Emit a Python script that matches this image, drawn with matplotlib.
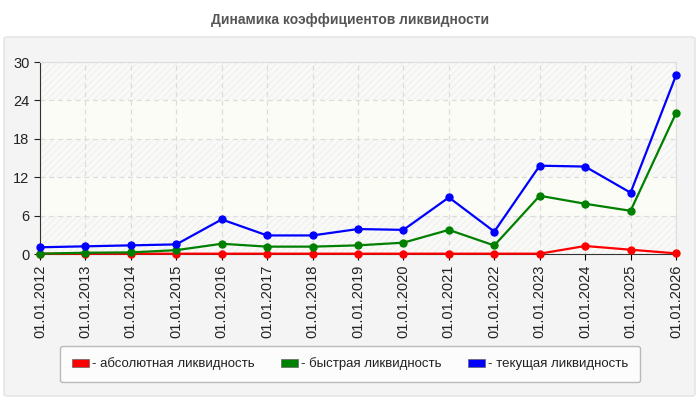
import numpy as np
import matplotlib.pyplot as plt
from matplotlib.patches import FancyBboxPatch, Patch

# data
dates = ['01.01.2012', '01.01.2013', '01.01.2014', '01.01.2015', '01.01.2016',
         '01.01.2017', '01.01.2018', '01.01.2019', '01.01.2020', '01.01.2021',
         '01.01.2022', '01.01.2023', '01.01.2024', '01.01.2025', '01.01.2026']
absolute = [0.05, 0.05, 0.05, 0.05, 0.05, 0.05, 0.05, 0.05, 0.05, 0.05,
            0.05, 0.05, 1.25, 0.67, 0.1]
quick = [0.05, 0.2, 0.25, 0.6, 1.6, 1.15, 1.15, 1.35, 1.77, 3.77,
         1.33, 9.1, 7.85, 6.75, 22.0]
current = [1.05, 1.2, 1.35, 1.5, 5.4, 2.9, 2.9, 3.9, 3.77, 8.84,
           3.5, 13.8, 13.66, 9.58, 27.9]
yticks = [0, 6, 12, 18, 24, 30]

series = [
    ('- абсолютная ликвидность', absolute, '#ff0000'),
    ('- быстрая ликвидность', quick, '#008000'),
    ('- текущая ликвидность', current, '#0000ff'),
]

plt.rcParams['font.family'] = ['Liberation Sans', 'DejaVu Sans']
plt.rcParams['hatch.linewidth'] = 0.6

W, H = 700, 400
fig = plt.figure(figsize=(7, 4), dpi=100)
fig.patch.set_facecolor('white')

# grey panel behind the chart
panel = FancyBboxPatch((4 / W, 4 / H), 691 / W, 359 / H,
                       boxstyle='round,pad=0,rounding_size=0.005',
                       transform=fig.transFigure, facecolor='#f4f4f4',
                       edgecolor='#e2e2e2', linewidth=1, zorder=-10)
fig.patches.append(panel)

fig.text(0.5, 1 - 20 / H, 'Динамика коэффициентов ликвидности',
         ha='center', va='center', fontsize=10, fontweight='bold', color='#555555')

ax = fig.add_axes([40 / W, 1 - 254 / H, 636 / W, 192 / H])
ax.set_zorder(2)
ax.set_facecolor('#fcfcf7')

x = np.arange(len(dates))
# alternating hatched bands
for i in range(len(yticks) - 1):
    if i % 2 == 0:
        ax.axhspan(yticks[i], yticks[i + 1], facecolor='#f9f9f7', edgecolor='#ededed',
                   hatch='/////', linewidth=0, zorder=0)

ax.grid(True, color='#dcdcdc', linestyle=(0, (4, 3)), linewidth=0.9)
ax.set_axisbelow(True)

for label, vals, color in series:
    ax.plot(x, vals, color=color, linewidth=1.6, marker='o', markersize=5,
            label=label, zorder=3, clip_on=False)

ax.set_xlim(0, len(dates) - 1)
ax.set_ylim(0, 30)
ax.set_yticks(yticks)
ax.set_xticks(x)
ax.set_xticklabels(dates, rotation=90, fontsize=10.5, color='#222222')
ax.tick_params(axis='y', labelsize=10.5, colors='#222222', length=4)
ax.tick_params(axis='x', length=4)
for side in ['top', 'right']:
    ax.spines[side].set_color('#dddddd')
for side in ['left', 'bottom']:
    ax.spines[side].set_color('#333333')

handles = [Patch(facecolor=c, edgecolor='#666666', linewidth=0.5, label=l)
           for l, _, c in series]
leg = fig.legend(handles=handles, loc='center', ncol=3,
                 bbox_to_anchor=(350 / W, 1 - 364 / H), fontsize=9.5,
                 frameon=True, fancybox=True, handlelength=1.3, handleheight=0.6,
                 handletextpad=0.2, columnspacing=2.0, borderpad=0.9)
leg.set_zorder(5)
leg.get_frame().set_edgecolor('#aaaaaa')
leg.get_frame().set_facecolor('white')
for t in leg.get_texts():
    t.set_color('#222222')

fig.savefig('out.png', dpi=100)
